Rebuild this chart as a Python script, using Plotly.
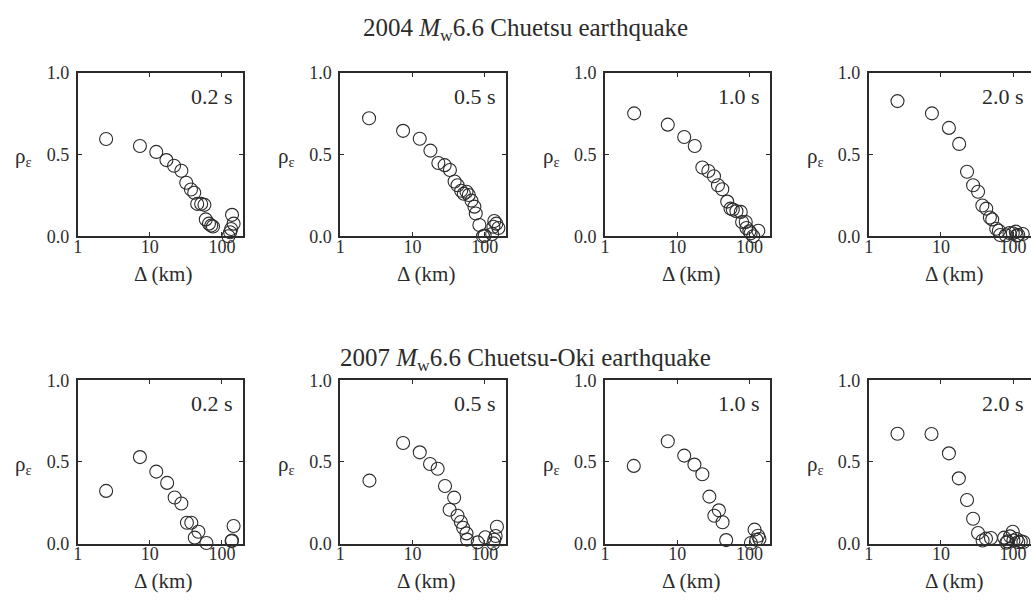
import plotly.graph_objects as go

# Distance (km) and correlation coefficient of residuals, per period
# 2004 Mw6.6 Chuetsu earthquake
d04_02 = [2.48, 7.3, 12.3, 17.0, 21.7, 27.4, 32.0, 37.2, 41.3, 45.4, 51.5, 57.2, 59.7, 66.1, 71.0, 75.1, 123, 130, 134, 138, 145]
r04_02 = [0.595, 0.552, 0.516, 0.466, 0.431, 0.401, 0.327, 0.286, 0.266, 0.198, 0.198, 0.192, 0.103, 0.077, 0.065, 0.060, 0.0, 0.024, 0.044, 0.131, 0.077]
d04_05 = [2.5, 7.4, 12.6, 17.7, 22.8, 27.9, 33.0, 38.3, 42.1, 47.2, 51.4, 56.0, 60.3, 65.6, 72.1, 75.2, 84.5, 94.8, 100, 127, 136, 145, 155, 132]
r04_05 = [0.722, 0.645, 0.597, 0.524, 0.448, 0.435, 0.405, 0.335, 0.312, 0.278, 0.260, 0.272, 0.252, 0.218, 0.181, 0.139, 0.069, 0.0, 0.004, 0.014, 0.093, 0.077, 0.050, 0.058]
d04_10 = [2.53, 7.4, 12.5, 17.5, 22.3, 27.0, 32.3, 36.7, 42.1, 49.3, 54.8, 59.0, 66.2, 76.0, 79.3, 89.1, 91.0, 100, 104, 113, 133]
r04_10 = [0.752, 0.683, 0.607, 0.552, 0.421, 0.399, 0.367, 0.312, 0.288, 0.212, 0.169, 0.163, 0.153, 0.149, 0.087, 0.087, 0.050, 0.030, 0.018, 0.0, 0.034]
d04_20 = [2.5, 7.5, 12.9, 17.9, 23.0, 27.9, 32.7, 37.5, 42.5, 47.7, 51.4, 58.4, 63.5, 66.2, 79.3, 89.1, 98.9, 109, 112, 118, 136]
r04_20 = [0.827, 0.752, 0.663, 0.565, 0.395, 0.312, 0.272, 0.188, 0.169, 0.115, 0.103, 0.046, 0.034, 0.008, 0.006, 0.020, 0.018, 0.028, 0.004, 0.008, 0.014]

# 2007 Mw6.6 Chuetsu-Oki earthquake
d07_02 = [2.48, 7.3, 12.3, 17.4, 22.1, 27.4, 32.7, 37.6, 42.0, 47.2, 60.9, 136, 138, 145]
r07_02 = [0.323, 0.530, 0.441, 0.372, 0.283, 0.246, 0.128, 0.128, 0.037, 0.073, 0.004, 0.016, 0.020, 0.108]
d07_05 = [2.53, 7.4, 12.6, 17.5, 22.3, 28.2, 32.7, 37.8, 42.1, 46.8, 50.3, 56.0, 57.1, 80.1, 102, 132, 136, 142, 148]
r07_05 = [0.386, 0.616, 0.559, 0.488, 0.459, 0.353, 0.208, 0.282, 0.171, 0.133, 0.098, 0.063, 0.025, 0.008, 0.039, 0.002, 0.024, 0.047, 0.104]
d07_10 = [2.5, 7.4, 12.5, 17.3, 22.3, 27.9, 32.7, 37.8, 42.5, 47.7, 105, 118, 125, 132, 138]
r07_10 = [0.476, 0.627, 0.539, 0.484, 0.425, 0.288, 0.171, 0.204, 0.131, 0.022, 0.004, 0.086, 0.024, 0.049, 0.029]
d07_20 = [2.5, 7.4, 12.9, 17.7, 23.0, 27.9, 32.7, 37.8, 42.1, 49.3, 75.2, 80.5, 83.6, 91.0, 98.9, 101, 112, 118, 128, 139]
r07_20 = [0.673, 0.671, 0.553, 0.400, 0.267, 0.153, 0.065, 0.020, 0.031, 0.035, 0.037, 0.006, 0.014, 0.045, 0.073, 0.020, 0.029, 0.010, 0.014, 0.010]

periods = ["0.2 s", "0.5 s", "1.0 s", "2.0 s"]
row_titles = ["2004 <i>M</i><sub>w</sub>6.6 Chuetsu earthquake",
              "2007 <i>M</i><sub>w</sub>6.6 Chuetsu-Oki earthquake"]
x_ticks = [1, 10, 100]
x_ticklabels = ["1", "10", "100"]
y_ticks = [0.0, 0.5, 1.0]
y_ticklabels = ["0.0", "0.5", "1.0"]

panels = [
    [(d04_02, r04_02), (d04_05, r04_05), (d04_10, r04_10), (d04_20, r04_20)],
    [(d07_02, r07_02), (d07_05, r07_05), (d07_10, r07_10), (d07_20, r07_20)],
]

W, H = 1031, 603
FONT = "Liberation Serif"
INK = "#2b2b2b"

# panel frames in pixels
col_left = [73, 337, 603, 868]
box_w = 166
row_top = [65, 383]
box_h = 169
px_per_decade = 72.5
title_y = [20, 362]


def px_x(p):
    return p / W


def px_y(p):
    return 1 - p / H


fig = go.Figure()
annotations = []
layout = {}

k = 0
for r in range(2):
    for c in range(4):
        k += 1
        d, rho = panels[r][c]
        xa = "x" if k == 1 else f"x{k}"
        ya = "y" if k == 1 else f"y{k}"
        fig.add_trace(go.Scatter(
            x=d, y=rho, mode="markers", xaxis=xa, yaxis=ya,
            marker=dict(symbol="circle-open", size=13, color=INK, line=dict(width=1.1, color=INK)),
            cliponaxis=False, showlegend=False, hoverinfo="x+y",
        ))
        left = col_left[c]
        right = min(left + box_w, W)
        top = row_top[r]
        bottom = top + box_h
        last = (c == 3)
        layout["xaxis" if k == 1 else f"xaxis{k}"] = dict(
            domain=[px_x(left), px_x(right)], anchor=ya, type="log",
            range=[0, (right - left) / px_per_decade],
            tickvals=x_ticks, ticktext=x_ticklabels,
            ticks="inside", ticklen=4, tickcolor=INK, tickwidth=1,
            showline=True, linecolor=INK, linewidth=1.8, mirror="ticks",
            showgrid=False, zeroline=False, ticklabelstandoff=-7,
            tickfont=dict(family=FONT, size=18, color=INK),
        )
        layout["yaxis" if k == 1 else f"yaxis{k}"] = dict(
            domain=[px_y(bottom), px_y(top)], anchor=xa,
            range=[0, 1], tickvals=y_ticks, ticktext=y_ticklabels,
            ticks="inside", ticklen=4, tickcolor=INK, tickwidth=1,
            showline=True, linecolor=INK, linewidth=1.8,
            mirror=False if last else "ticks",
            showgrid=False, zeroline=False, ticklabelstandoff=3,
            tickfont=dict(family=FONT, size=18, color=INK),
        )
        # period label, top-right inside the frame
        annotations.append(dict(
            text=periods[c], xref="paper", yref="paper",
            x=px_x(left + box_w - 8), y=px_y(top + 24),
            xanchor="right", yanchor="middle", showarrow=False,
            font=dict(family=FONT, size=22, color=INK),
        ))
        # y-axis label
        annotations.append(dict(
            text="ρ<sub>ε</sub>", xref="paper", yref="paper",
            x=px_x(left - 54), y=px_y(top + box_h / 2 + 3),
            xanchor="center", yanchor="middle", showarrow=False,
            font=dict(family=FONT, size=21, color=INK),
        ))
        # x-axis label
        annotations.append(dict(
            text="Δ (km)", xref="paper", yref="paper",
            x=px_x(left + 86), y=px_y(bottom + 39),
            xanchor="center", yanchor="middle", showarrow=False,
            font=dict(family=FONT, size=21, color=INK),
        ))
    annotations.append(dict(
        text=row_titles[r], xref="paper", yref="paper",
        x=px_x(523), y=px_y(title_y[r]),
        xanchor="center", yanchor="middle", showarrow=False,
        font=dict(family=FONT, size=25, color=INK),
    ))

fig.update_layout(
    width=W, height=H, margin=dict(l=0, r=0, t=0, b=0),
    paper_bgcolor="white", plot_bgcolor="white",
    font=dict(family=FONT, color=INK),
    annotations=annotations, **layout,
)

fig.write_html("out.html")
